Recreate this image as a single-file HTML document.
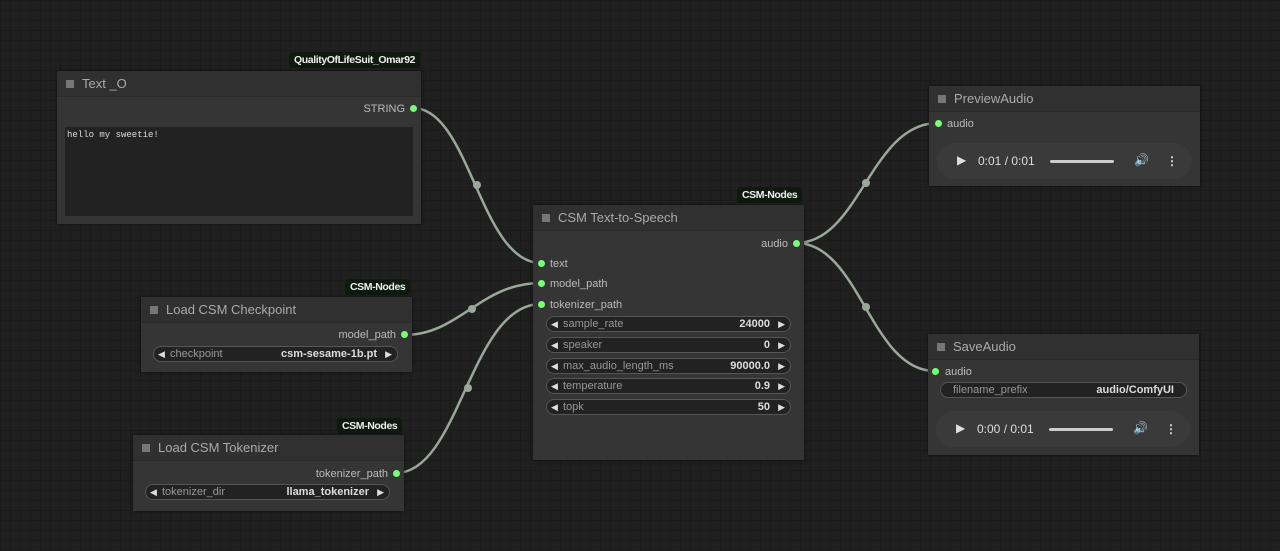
<!DOCTYPE html>
<html><head><meta charset="utf-8"><style>
*{box-sizing:border-box;margin:0;padding:0}
body{width:1280px;height:551px;overflow:hidden;background:#202020;font-family:"Liberation Sans",Arial,sans-serif;position:relative;
background-image:linear-gradient(#1b1b1b 1px,transparent 1px),linear-gradient(90deg,#1b1b1b 1px,transparent 1px);background-size:10px 10px}
.node{position:absolute;background:#353535;box-shadow:0 0 4px rgba(0,0,0,.6)}
.title{height:26px;background:#303030;border-bottom:1px solid #2a2a2a;color:#aaa;font-size:13px;line-height:26px;padding-left:25px;position:relative}
.title:before{content:"";position:absolute;left:9px;top:9px;width:8px;height:8px;background:#777}
.badge{position:absolute;background:#0f1a0f;color:#eee;font-size:10.5px;letter-spacing:-0.4px;font-weight:bold;height:16px;line-height:16px;padding:0 5px;border-radius:3px}
.dot{position:absolute;width:7px;height:7px;border-radius:50%;background:#7f7}
.lbl{position:absolute;color:#bbb;font-size:11px;white-space:nowrap}
.w{position:absolute;height:16px;border:1px solid #555;border-radius:8px;background:#222;font-size:11px;color:#999;line-height:14px}
.w .l{position:absolute;left:16px}.w .v{position:absolute;right:20px;color:#ddd;font-weight:bold}
.w.a:before{content:"◀";position:absolute;left:4px;color:#ddd;font-size:9px}
.w.a:after{content:"▶";position:absolute;right:5px;color:#ddd;font-size:9px}
.player{position:absolute;height:36px;border-radius:18px;background:#3a3a3a;color:#ddd;font-size:12px}
.player span{position:absolute;top:11px}
.bar{position:absolute;top:17px;height:3px;background:#ccc;border-radius:2px}
</style></head><body>
<svg width="1280" height="551" style="position:absolute;left:0;top:0">
<g fill="none" stroke="#9aa89a" stroke-width="2.5">
<path d="M413,108 C470,108 480,263 541,263"/>
<path d="M404,335 C460,335 480,283 541,283"/>
<path d="M396,473 C460,473 470,304 541,304"/>
<path d="M796,243 C860,243 870,123 938,123"/>
<path d="M796,243 C860,243 870,371 935,371"/>
</g>
<g fill="#9aa89a"><circle cx="477" cy="185" r="4"/><circle cx="472" cy="309" r="4"/><circle cx="468" cy="388" r="4"/><circle cx="866" cy="183" r="4"/><circle cx="866" cy="307" r="4"/></g>
</svg>

<div class="badge" style="left:289px;top:52px">QualityOfLifeSuit_Omar92</div>
<div class="node" style="left:57px;top:71px;width:364px;height:153px">
<div class="title">Text _O</div>
<div class="lbl" style="right:16px;top:32px">STRING</div>
<div class="dot" style="right:4px;top:34px"></div>
<div style="position:absolute;left:8px;top:56px;width:348px;height:89px;background:#222;color:#ddd;font-family:'Liberation Mono',monospace;font-size:9px;padding:3px 2px">hello my sweetie!</div>
</div>

<div class="badge" style="left:345px;top:279px">CSM-Nodes</div>
<div class="node" style="left:141px;top:297px;width:271px;height:75px">
<div class="title">Load CSM Checkpoint</div>
<div class="lbl" style="right:16px;top:32px">model_path</div>
<div class="dot" style="right:4px;top:34px"></div>
<div class="w a" style="left:12px;top:49px;width:245px"><span class="l">checkpoint</span><span class="v">csm-sesame-1b.pt</span></div>
</div>

<div class="badge" style="left:337px;top:418px">CSM-Nodes</div>
<div class="node" style="left:133px;top:435px;width:271px;height:76px">
<div class="title">Load CSM Tokenizer</div>
<div class="lbl" style="right:16px;top:33px">tokenizer_path</div>
<div class="dot" style="right:4px;top:35px"></div>
<div class="w a" style="left:12px;top:49px;width:245px"><span class="l">tokenizer_dir</span><span class="v">llama_tokenizer</span></div>
</div>

<div class="badge" style="left:737px;top:187px">CSM-Nodes</div>
<div class="node" style="left:533px;top:205px;width:271px;height:255px">
<div class="title">CSM Text-to-Speech</div>
<div class="lbl" style="right:16px;top:33px">audio</div>
<div class="dot" style="right:4px;top:35px"></div>
<div class="dot" style="left:5px;top:55px"></div><div class="lbl" style="left:17px;top:53px">text</div>
<div class="dot" style="left:5px;top:75px"></div><div class="lbl" style="left:17px;top:73px">model_path</div>
<div class="dot" style="left:5px;top:96px"></div><div class="lbl" style="left:17px;top:94px">tokenizer_path</div>
<div class="w a" style="left:13px;top:111px;width:245px"><span class="l">sample_rate</span><span class="v">24000</span></div>
<div class="w a" style="left:13px;top:132px;width:245px"><span class="l">speaker</span><span class="v">0</span></div>
<div class="w a" style="left:13px;top:153px;width:245px"><span class="l">max_audio_length_ms</span><span class="v">90000.0</span></div>
<div class="w a" style="left:13px;top:173px;width:245px"><span class="l">temperature</span><span class="v">0.9</span></div>
<div class="w a" style="left:13px;top:194px;width:245px"><span class="l">topk</span><span class="v">50</span></div>
</div>

<div class="node" style="left:929px;top:86px;width:271px;height:100px">
<div class="title">PreviewAudio</div>
<div class="dot" style="left:6px;top:34px"></div><div class="lbl" style="left:18px;top:32px">audio</div>
<div class="player" style="left:8px;top:57px;width:255px"><span style="left:20px;top:10px">▶</span><span style="left:41px">0:01 / 0:01</span><div class="bar" style="left:113px;width:64px"></div><span style="left:197px;top:10px">🔊</span><span style="left:229px;font-weight:bold">⋮</span></div>
</div>

<div class="node" style="left:928px;top:334px;width:271px;height:121px">
<div class="title">SaveAudio</div>
<div class="dot" style="left:4px;top:34px"></div><div class="lbl" style="left:17px;top:32px">audio</div>
<div class="w" style="left:12px;top:48px;width:247px"><span class="l" style="left:12px">filename_prefix</span><span class="v" style="right:12px">audio/ComfyUI</span></div>
<div class="player" style="left:8px;top:77px;width:254px"><span style="left:20px;top:10px">▶</span><span style="left:41px">0:00 / 0:01</span><div class="bar" style="left:113px;width:64px"></div><span style="left:197px;top:10px">🔊</span><span style="left:229px;font-weight:bold">⋮</span></div>
</div>
</body></html>
